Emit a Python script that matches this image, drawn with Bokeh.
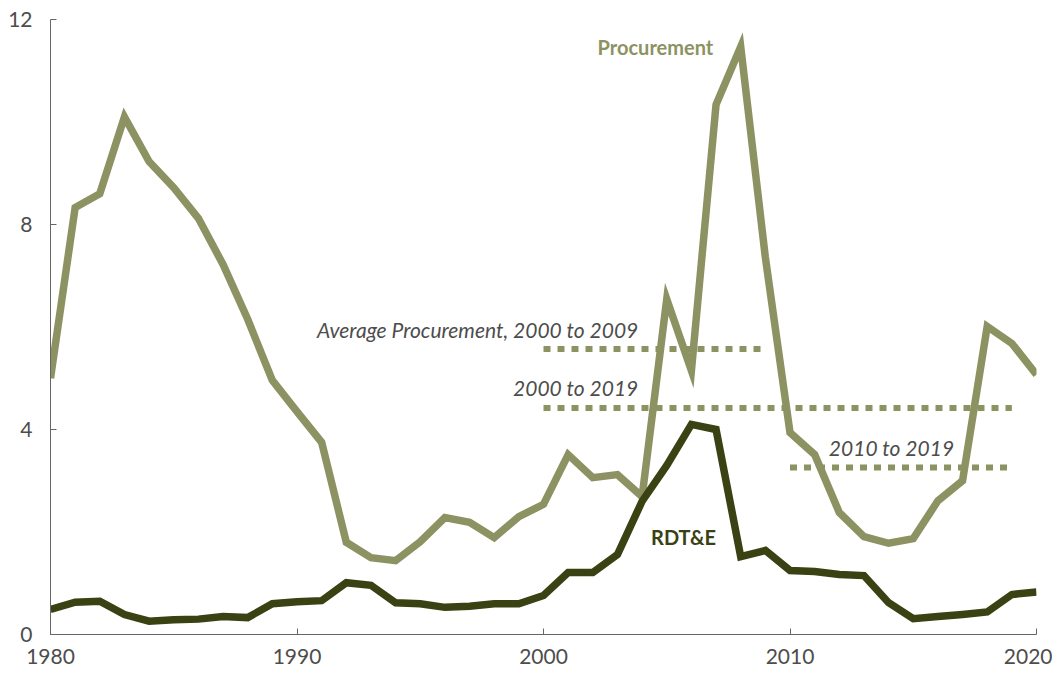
from bokeh.plotting import figure
from bokeh.models import Range1d, Label, FixedTicker
from bokeh.embed import file_html
from bokeh.resources import INLINE

years = list(range(1980, 2021))
procurement = [5.0, 8.33, 8.6, 10.1, 9.23, 8.72, 8.12, 7.22, 6.15, 4.96,
               4.35, 3.75, 1.8, 1.5, 1.44, 1.81, 2.28, 2.19, 1.89, 2.3,
               2.54, 3.51, 3.06, 3.12, 2.69, 6.54, 5.15, 10.34, 11.47, 7.36,
               3.94, 3.51, 2.38, 1.91, 1.78, 1.87, 2.61, 3.0, 6.01, 5.68, 5.07]
rdte = [0.49, 0.63, 0.65, 0.39, 0.26, 0.29, 0.3, 0.35, 0.33, 0.6,
        0.64, 0.66, 1.01, 0.96, 0.62, 0.6, 0.53, 0.55, 0.6, 0.6,
        0.76, 1.21, 1.21, 1.56, 2.6, 3.3, 4.1, 4.0, 1.52, 1.64,
        1.25, 1.23, 1.17, 1.15, 0.62, 0.31, 0.35, 0.39, 0.44, 0.78, 0.83]

avg_labels = ["Average Procurement, 2000 to 2009", "2000 to 2019", "2010 to 2019"]
avg_start = [2000, 2000, 2010]
avg_end = [2009, 2019, 2019]
avg_values = [5.57, 4.42, 3.26]

x_ticks = [1980, 1990, 2000, 2010, 2020]
y_ticks = [0, 4, 8, 12]

PROC = "#8D9262"
RDTE = "#3A4113"
GREY = "#4D4D4D"
FONT = "Lato"

p = figure(width=1052, height=674, output_backend="svg", toolbar_location=None,
           x_range=Range1d(1980, 2020), y_range=Range1d(0, 12),
           min_border_left=50, min_border_right=16, min_border_top=19, min_border_bottom=40)
p.outline_line_color = None
p.xgrid.grid_line_color = None
p.ygrid.grid_line_color = None
p.background_fill_color = "white"

for ax in (p.xaxis[0], p.yaxis[0]):
    ax.axis_line_color = "#666666"
    ax.axis_line_width = 1
    ax.major_tick_line_color = "#666666"
    ax.major_tick_in = 6
    ax.major_tick_out = 0
    ax.minor_tick_line_color = None
    ax.major_label_text_font = FONT
    ax.major_label_text_font_size = "21px"
    ax.major_label_text_color = GREY
p.xaxis[0].ticker = FixedTicker(ticks=x_ticks)
p.yaxis[0].ticker = FixedTicker(ticks=y_ticks)
p.xaxis[0].major_label_standoff = 14
p.yaxis[0].major_label_standoff = 18

# average dashed lines
for s, e, v in zip(avg_start, avg_end, avg_values):
    p.line([s, e], [v, v], line_color=PROC, line_width=6, line_dash="7 7", line_cap="butt")

p.line(years, procurement, line_color=PROC, line_width=7.5, line_join="miter")
p.line(years, rdte, line_color=RDTE, line_width=7.5, line_join="miter")

p.add_layout(Label(x=2004.54, y=11.47, text="Procurement", text_align="center", text_baseline="middle",
                   text_font=FONT, text_font_style="bold", text_font_size="20px", text_color=PROC))
p.add_layout(Label(x=2005.68, y=1.91, text="RDT&E", text_align="center", text_baseline="middle",
                   text_font=FONT, text_font_style="bold", text_font_size="20px", text_color=RDTE))
p.add_layout(Label(x=2003.85, y=5.95, text=avg_labels[0], text_align="right", text_baseline="middle",
                   text_font=FONT, text_font_style="italic", text_font_size="21px", text_color=GREY))
p.add_layout(Label(x=2003.85, y=4.82, text=avg_labels[1], text_align="right", text_baseline="middle",
                   text_font=FONT, text_font_style="italic", text_font_size="21px", text_color=GREY))
p.add_layout(Label(x=2014.12, y=3.65, text=avg_labels[2], text_align="center", text_baseline="middle",
                   text_font=FONT, text_font_style="italic", text_font_size="21px", text_color=GREY))

open("out.html", "w").write(file_html(p, INLINE))
